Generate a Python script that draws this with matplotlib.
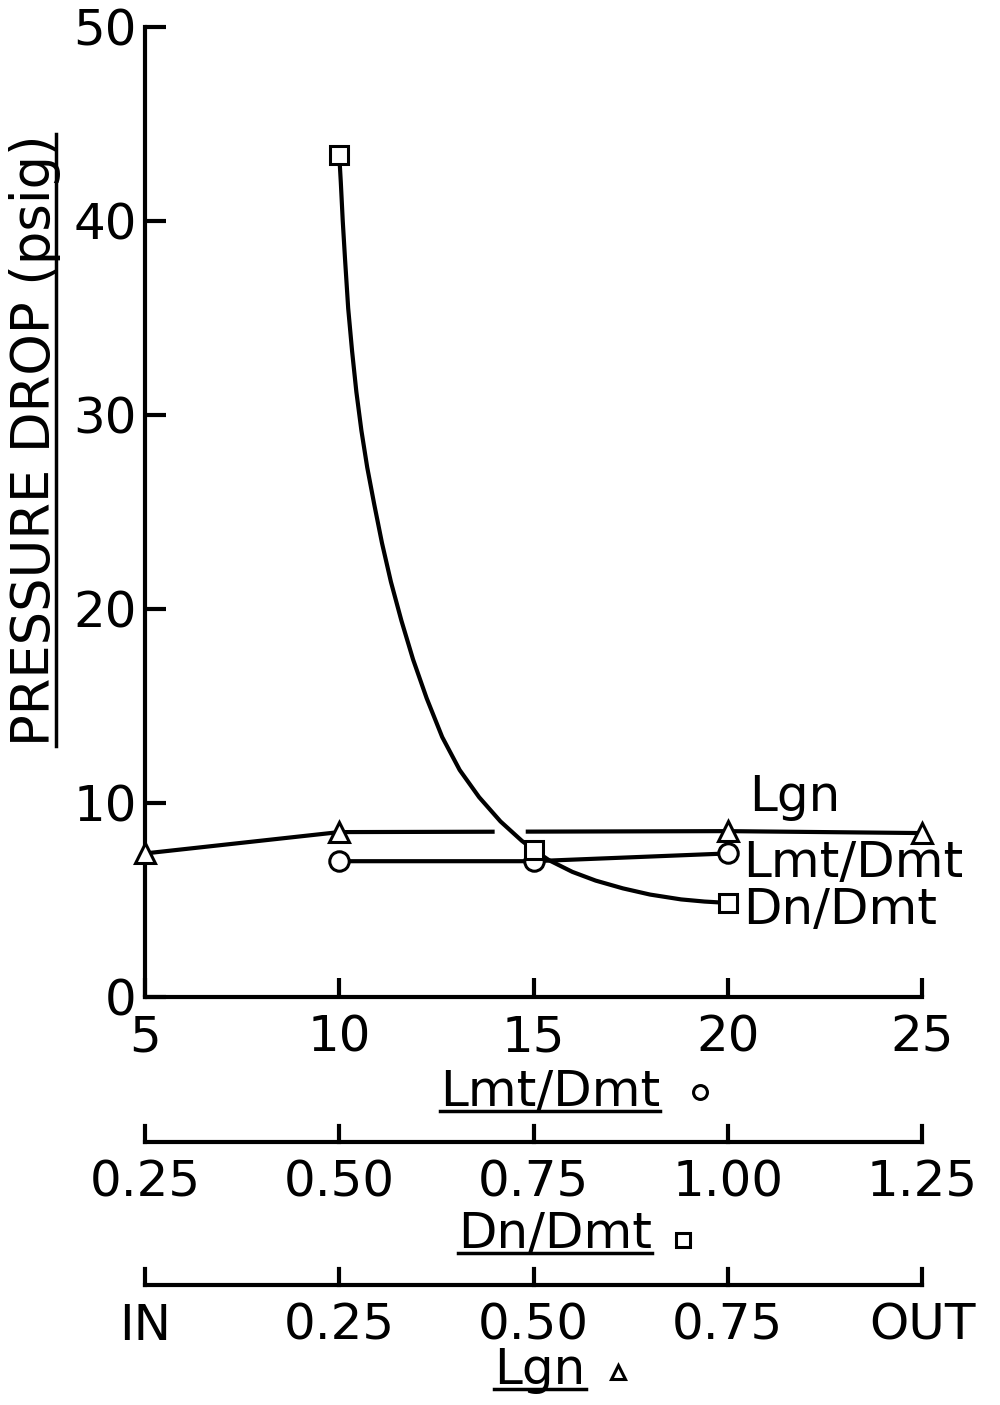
import numpy as np
import matplotlib
matplotlib.use("Agg")
import matplotlib.pyplot as plt
from matplotlib.lines import Line2D

plt.rcParams['font.family'] = ['DejaVu Sans']

# Lmt/Dmt series (circles) on the 5..25 scale
lmt_x = [10, 15, 20]
lmt_y = [7.0, 7.0, 7.4]

# Dn/Dmt series (squares): 0.50, 0.75, 1.00 sit at 10, 15, 20 of the main scale
dn_x = [10, 15, 20]
dn_y = [43.4, 7.6, 4.85]
# the hand drawn curve through the squares
dn_curve_x = [10.0, 10.04, 10.09, 10.15, 10.23, 10.33, 10.44, 10.57, 10.72, 10.90,
              11.10, 11.33, 11.60, 11.90, 12.25, 12.65, 13.10, 13.60, 14.15, 14.70,
              15.0, 15.4, 16.0, 16.6, 17.3, 18.0, 18.8, 19.4, 20.0]
dn_curve_y = [43.4, 42.0, 40.0, 38.0, 35.5, 33.3, 31.2, 29.2, 27.3, 25.4,
              23.4, 21.4, 19.4, 17.4, 15.4, 13.4, 11.7, 10.3, 9.05, 8.05,
              7.6, 7.05, 6.45, 6.0, 5.6, 5.28, 5.03, 4.92, 4.85]

# Lgn series (triangles): IN, 0.25, 0.75, OUT
lgn_x = [5, 10, 20, 25]
lgn_y = [7.4, 8.5, 8.55, 8.45]
lgn_gap = [14.0, 14.8]   # the line is broken where the curve crosses it

main_ticks = [5, 10, 15, 20, 25]
main_ticklabels = ['5', '10', '15', '20', '25']
dn_ticklabels = ['0.25', '0.50', '0.75', '1.00', '1.25']
lgn_ticklabels = ['IN', '0.25', '0.50', '0.75', 'OUT']
yticks = [0, 10, 20, 30, 40, 50]

W, H = 1000, 1405
fig = plt.figure(figsize=(W / 100, H / 100), dpi=100)

def fx(px):
    return px / W

def fy(py):
    return 1 - py / H

FS = 36
LW = 3.0

ax = fig.add_axes([fx(145), fy(997), fx(922) - fx(145), fy(27) - fy(997)])
ax.set_xlim(5, 25)
ax.set_ylim(0, 50)
for s in ['top', 'right']:
    ax.spines[s].set_visible(False)
for s in ['left', 'bottom']:
    ax.spines[s].set_linewidth(LW)
ax.set_xticks(main_ticks)
ax.set_xticklabels(main_ticklabels)
ax.set_yticks(yticks)
ax.tick_params(axis='both', direction='in', width=LW, labelsize=FS)
ax.tick_params(axis='y', length=15, pad=6)
ax.tick_params(axis='x', length=14, pad=12)

mk = dict(markerfacecolor='white', markeredgecolor='black', markeredgewidth=2.2,
          clip_on=False, zorder=5)

# Lgn line with the gap
gy = np.interp(lgn_gap, lgn_x, lgn_y)
left = [(x, y) for x, y in zip(lgn_x, lgn_y) if x < lgn_gap[0]] + [(lgn_gap[0], gy[0])]
right = [(lgn_gap[1], gy[1])] + [(x, y) for x, y in zip(lgn_x, lgn_y) if x > lgn_gap[1]]
for seg in (left, right):
    ax.plot([p[0] for p in seg], [p[1] for p in seg], color='black', lw=LW,
            solid_capstyle='butt', clip_on=False, zorder=3)
ax.plot(lgn_x, lgn_y, linestyle='none', marker='^', markersize=14, **mk)

ax.plot(lmt_x, lmt_y, color='black', lw=LW, marker='o', markersize=14, **mk)

ax.plot(dn_curve_x, dn_curve_y, color='black', lw=LW, clip_on=False, zorder=4,
        solid_joinstyle='round')
ax.plot(dn_x, dn_y, linestyle='none', marker='s', markersize=13, **mk)

ax.text(20.55, 10.3, 'Lgn', fontsize=FS, va='center', ha='left')
ax.text(20.4, 6.9, 'Lmt/Dmt', fontsize=FS, va='center', ha='left')
ax.text(20.4, 4.5, 'Dn/Dmt', fontsize=FS, va='center', ha='left')

# the two extra scales below the main one
def scale_axis(py, labels):
    a = fig.add_axes([fx(145), fy(py), fx(922) - fx(145), 0.001])
    a.set_xlim(5, 25)
    a.set_ylim(0, 1)
    a.set_yticks([])
    for s in ['top', 'right', 'left']:
        a.spines[s].set_visible(False)
    a.spines['bottom'].set_linewidth(LW)
    a.set_xticks(main_ticks)
    a.set_xticklabels(labels)
    a.tick_params(axis='x', direction='out', length=0, pad=12, labelsize=FS)
    a.patch.set_visible(False)
    # ticks stand up from the line, 16 px tall
    th = 16 / (0.001 * H)
    for t in main_ticks:
        a.plot([t, t], [0, th], color='black', lw=LW,
               transform=a.get_xaxis_transform(), clip_on=False)
    return a

ax2 = scale_axis(1142, dn_ticklabels)
ax3 = scale_axis(1285, lgn_ticklabels)

titles = []
titles.append(fig.text(fx(550), fy(1092), 'Lmt/Dmt', fontsize=FS, ha='center', va='center'))
titles.append(fig.text(fx(555), fy(1234), 'Dn/Dmt', fontsize=FS, ha='center', va='center'))
titles.append(fig.text(fx(540), fy(1370), 'Lgn', fontsize=FS, ha='center', va='center'))
ylab = fig.text(fx(35), fy(440), 'PRESSURE DROP (psig)', fontsize=38, rotation=90,
                ha='center', va='center')

sym = dict(markerfacecolor='white', markeredgecolor='black', markeredgewidth=2.2,
           linestyle='none', transform=fig.transFigure)
fig.add_artist(Line2D([fx(700)], [fy(1092)], marker='o', markersize=10, **sym))
fig.add_artist(Line2D([fx(683)], [fy(1240)], marker='s', markersize=10, **sym))
fig.add_artist(Line2D([fx(618)], [fy(1372)], marker='^', markersize=10, **sym))

# underline the scale titles and the y label
fig.canvas.draw()
inv = fig.transFigure.inverted()
for t in titles:
    bb = t.get_window_extent()
    (x0, y0), (x1, y1) = inv.transform([[bb.x0, bb.y0], [bb.x1, bb.y1]])
    yy = y0 + 5 / H
    fig.add_artist(Line2D([x0, x1], [yy, yy], color='black', lw=2.5,
                          transform=fig.transFigure))
bb = ylab.get_window_extent()
(x0, y0), (x1, y1) = inv.transform([[bb.x0, bb.y0], [bb.x1, bb.y1]])
xx = x1 - 5 / W
fig.add_artist(Line2D([xx, xx], [y0, y1], color='black', lw=2.5,
                      transform=fig.transFigure))

fig.savefig('out.png', dpi=100, facecolor='white')
